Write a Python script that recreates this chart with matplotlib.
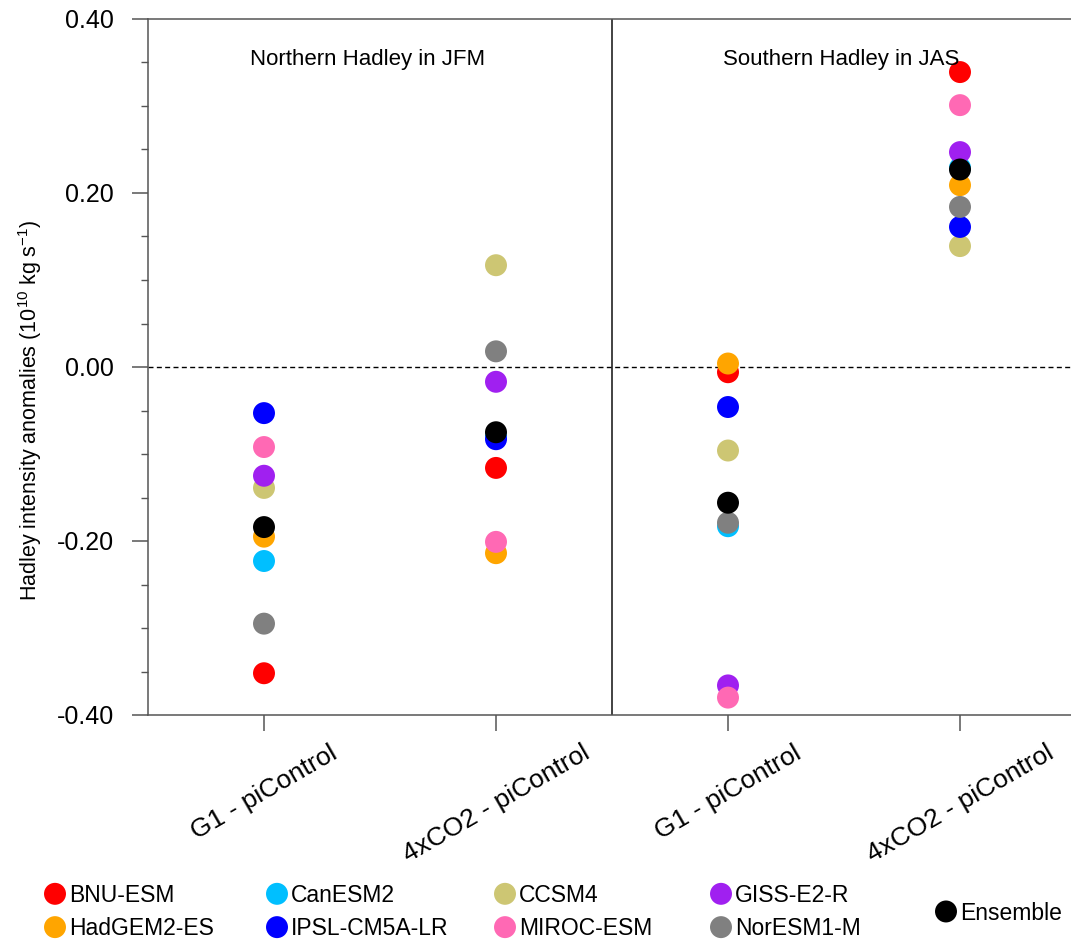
import matplotlib
matplotlib.use('Agg')
import matplotlib.pyplot as plt
from matplotlib.ticker import MultipleLocator, FixedLocator

plt.rcParams['font.family'] = 'Liberation Sans'
plt.rcParams['mathtext.fontset'] = 'custom'
plt.rcParams['mathtext.rm'] = 'Liberation Sans'
plt.rcParams['mathtext.it'] = 'Liberation Sans:italic'

# experiments on the x axis (JFM pair, then JAS pair)
experiments = ['G1 - piControl', '4xCO2 - piControl', 'G1 - piControl', '4xCO2 - piControl']
panel_titles = ['Northern Hadley in JFM', 'Southern Hadley in JAS']

models = ['BNU-ESM', 'CanESM2', 'CCSM4', 'GISS-E2-R',
          'HadGEM2-ES', 'IPSL-CM5A-LR', 'MIROC-ESM', 'NorESM1-M']
model_colors = ['#FF0000', '#00BFFF', '#CDC673', '#A020F0',
                '#FFA500', '#0000FF', '#FF69B4', '#808080']

# Hadley intensity anomalies (10^10 kg/s), one value per experiment
bnu_esm = [-0.352, -0.116, -0.006, 0.339]
canesm2 = [-0.223, -0.080, -0.183, 0.229]
ccsm4 = [-0.139, 0.117, -0.096, 0.139]
giss_e2_r = [-0.125, -0.017, -0.366, 0.247]
hadgem2_es = [-0.195, -0.214, 0.004, 0.209]
ipsl_cm5a_lr = [-0.053, -0.083, -0.046, 0.161]
miroc_esm = [-0.092, -0.201, -0.380, 0.301]
noresm1_m = [-0.295, 0.018, -0.179, 0.184]
ensemble = [-0.184, -0.075, -0.156, 0.227]

model_values = [bnu_esm, canesm2, ccsm4, giss_e2_r,
                hadgem2_es, ipsl_cm5a_lr, miroc_esm, noresm1_m]

W, H = 1071, 942
MSIZE = 250
FS_LEG = 16.5


def main():
    fig = plt.figure(figsize=(W / 100, H / 100), dpi=100)
    ax = fig.add_axes([148 / W, 1 - 715 / H, 1 - 148 / W, (715 - 19) / H])

    xpos = [1, 2, 3, 4]
    handles = []
    for name, col, vals in zip(models, model_colors, model_values):
        h = ax.scatter(xpos, vals, s=MSIZE, color=col, edgecolors='none',
                       label=name, zorder=3)
        handles.append(h)
    h_ens = ax.scatter(xpos, ensemble, s=MSIZE, color='black', edgecolors='none',
                       label='Ensemble', zorder=4)

    ax.axhline(0, color='black', lw=1.0, ls=(0, (3.6, 2.4)), zorder=1)
    ax.axvline(2.5, color='#222222', lw=1.2, zorder=1)

    ax.text(1.445, 0.353, panel_titles[0], ha='center', va='center', fontsize=16)
    ax.text(3.49, 0.353, panel_titles[1], ha='center', va='center', fontsize=16)

    ax.set_xlim(0.5, 0.5 + (W - 148) / 232)
    ax.set_ylim(-0.4, 0.4)

    ax.yaxis.set_major_locator(MultipleLocator(0.2))
    ax.yaxis.set_minor_locator(MultipleLocator(0.05))
    ax.set_yticklabels(['%.2f' % v for v in ax.get_yticks()])
    ax.xaxis.set_major_locator(FixedLocator(xpos))
    ax.set_xticklabels(experiments, rotation=30, ha='center', fontsize=19)

    ax.tick_params(axis='y', which='major', direction='out', length=11.5, width=1.1,
                   color='#555555', labelsize=18, pad=13)
    ax.tick_params(axis='y', which='minor', direction='out', length=5, width=1.0,
                   color='#555555')
    ax.tick_params(axis='x', which='major', direction='out', length=11.5, width=1.1,
                   color='#555555', pad=7)

    for side in ['left', 'bottom', 'top']:
        ax.spines[side].set_color('#555555')
        ax.spines[side].set_linewidth(1.1)
    ax.spines['right'].set_visible(False)

    ax.set_ylabel(r'Hadley intensity anomalies (10$^{10}$ kg s$^{-1}$)', fontsize=15.5)
    ax.yaxis.set_label_coords((44 - 148) / 923, (715 - 410) / 696)

    # legend: four columns of two models, plus the ensemble on its own
    col_x = [55, 277, 505, 721]
    hl = 1.0
    for i, cx in enumerate(col_x):
        pair = [handles[i], handles[i + 4]]
        left = cx - hl * FS_LEG * 100 / 72 / 2
        fig.legend(handles=pair, loc='center left',
                   bbox_to_anchor=(left / W, 1 - 912 / H),
                   frameon=False, borderpad=0, borderaxespad=0,
                   handlelength=hl, handletextpad=0.1, labelspacing=0.45,
                   scatteryoffsets=[0.5], fontsize=FS_LEG)
    left = 946 - hl * FS_LEG * 100 / 72 / 2
    fig.legend(handles=[h_ens], loc='center left',
               bbox_to_anchor=(left / W, 1 - 913 / H),
               frameon=False, borderpad=0, borderaxespad=0,
               handlelength=hl, handletextpad=0.1,
               scatteryoffsets=[0.5], fontsize=FS_LEG)

    fig.savefig('out.png', dpi=100)


main()
